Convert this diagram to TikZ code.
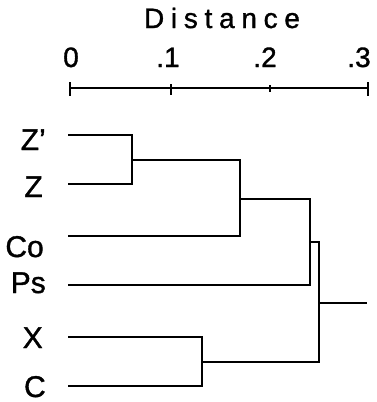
\documentclass[tikz,border=0pt]{standalone}
\usepackage{fontspec}
\setmainfont{Liberation Sans}
\newfontfamily\heavyfont[FakeBold=1.2,Ligatures=TeX]{Liberation Sans}
\begin{document}
\begin{tikzpicture}[x=1pt,y=-1pt,line width=2.5pt,
  leaf/.style={inner sep=0pt,font=\heavyfont\fontsize{30}{30}\selectfont},
  ticklab/.style={inner sep=0pt,font=\heavyfont\fontsize{28}{28}\selectfont},
  branch/.style={draw,line cap=butt,line join=miter}]
\useasboundingbox (0,0) rectangle (376,402);
% title and axis
\node[ticklab,anchor=base] (title) at (222,28) {\addfontfeatures{LetterSpace=24}Distance};
\node[ticklab,anchor=base] (l0) at (71,67) {0};
\node[ticklab,anchor=base] (l1) at (168,67) {.1};
\node[ticklab,anchor=base] (l2) at (265,67) {.2};
\node[ticklab,anchor=base] (l3) at (359,67) {.3};
\coordinate (a0) at (70,88);
\coordinate (a3) at (368,88);
\draw (a0) -- (a3);
\draw (70,82) -- (70,96);
\draw (171,84) -- (171,95);
\draw (270,85) -- (270,92);
\draw (368,82) -- (368,96);
% leaves
\node[leaf,anchor=base east] (Zp) at (47,150) {Z’};
\node[leaf,anchor=base east] (Z)  at (44,197) {Z};
\node[leaf,anchor=base east] (Co) at (45,257) {Co};
\node[leaf,anchor=base east] (Ps) at (47,293) {Ps};
\node[leaf,anchor=base east] (X)  at (44,348) {X};
\node[leaf,anchor=base east] (C)  at (47,397) {C};
% leaf line starts
\coordinate (sZp) at (68,135);
\coordinate (sZ)  at (68,184);
\coordinate (sCo) at (68,236);
\coordinate (sPs) at (68,285);
\coordinate (sX)  at (68,337);
\coordinate (sC)  at (68,386);
% joins
\coordinate (j1) at (132,160);
\coordinate (j2) at (240,199);
\coordinate (j3) at (310,242);
\coordinate (j4) at (202,362);
\coordinate (j5) at (319,303);
\coordinate (root) at (367,303);
\draw[branch] (sZp) -| (j1) |- (sZ);
\draw[branch] (j1) -| (j2) |- (sCo);
\draw[branch] (j2) -| (j3) |- (sPs);
\draw[branch] (sX) -| (j4) |- (sC);
\draw[branch] (j3) -| (j5) |- (j4);
\draw[branch] (j5) -- (root);
\end{tikzpicture}
\end{document}
